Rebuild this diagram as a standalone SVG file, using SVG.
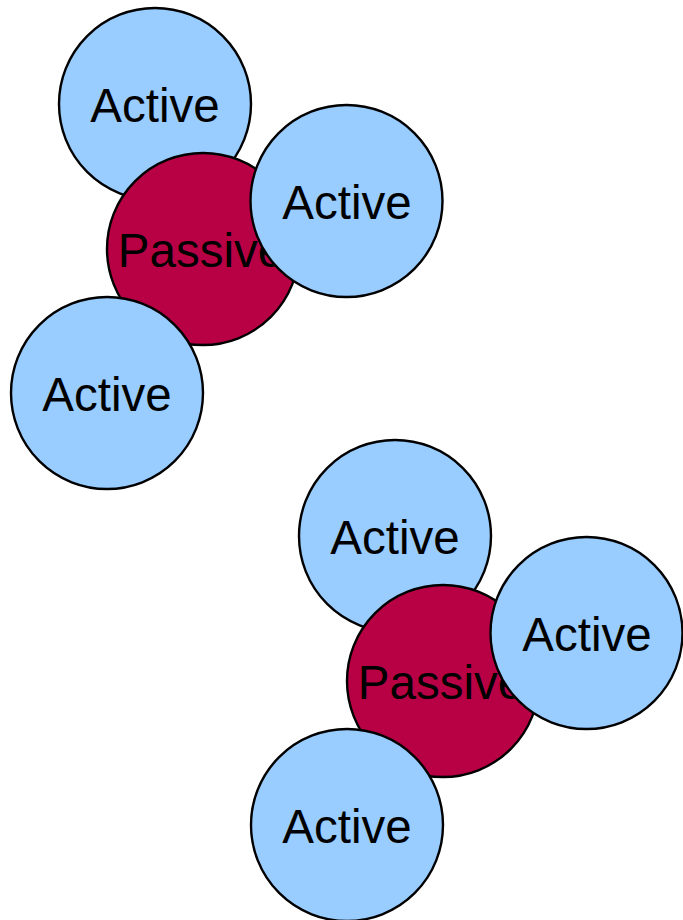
<svg xmlns="http://www.w3.org/2000/svg" width="683" height="920" viewBox="0 0 683 920">
  <style>
    .active circle { fill: #99CCFF; stroke: #000; stroke-width: 2.4; }
    .passive circle { fill: #B80045; stroke: #000; stroke-width: 2.4; }
    text { font-family: "Liberation Sans", Arial, sans-serif; font-size: 47.5px; fill: #000; text-anchor: middle; }
  </style>
  <rect width="683" height="920" fill="#fff"/>
  <g id="connectors"/>
  <!-- Upper cluster -->
  <g id="c1-active-top" class="active"><circle cx="155" cy="104" r="96"/><text x="155" y="122">Active</text></g>
  <g id="c1-passive" class="passive"><circle cx="203" cy="249" r="96"/><text x="201" y="267">Passive</text></g>
  <g id="c1-active-right" class="active"><circle cx="346.5" cy="201" r="96"/><text x="347" y="219">Active</text></g>
  <g id="c1-active-bottom" class="active"><circle cx="107" cy="393" r="96"/><text x="107" y="411">Active</text></g>
  <!-- Lower cluster -->
  <g id="c2-active-top" class="active"><circle cx="395" cy="536" r="96"/><text x="395" y="554">Active</text></g>
  <g id="c2-passive" class="passive"><circle cx="443" cy="681" r="96"/><text x="441" y="699">Passive</text></g>
  <g id="c2-active-right" class="active"><circle cx="586.5" cy="633" r="96"/><text x="587" y="651">Active</text></g>
  <g id="c2-active-bottom" class="active"><circle cx="347" cy="825" r="96"/><text x="347" y="843">Active</text></g>
</svg>
